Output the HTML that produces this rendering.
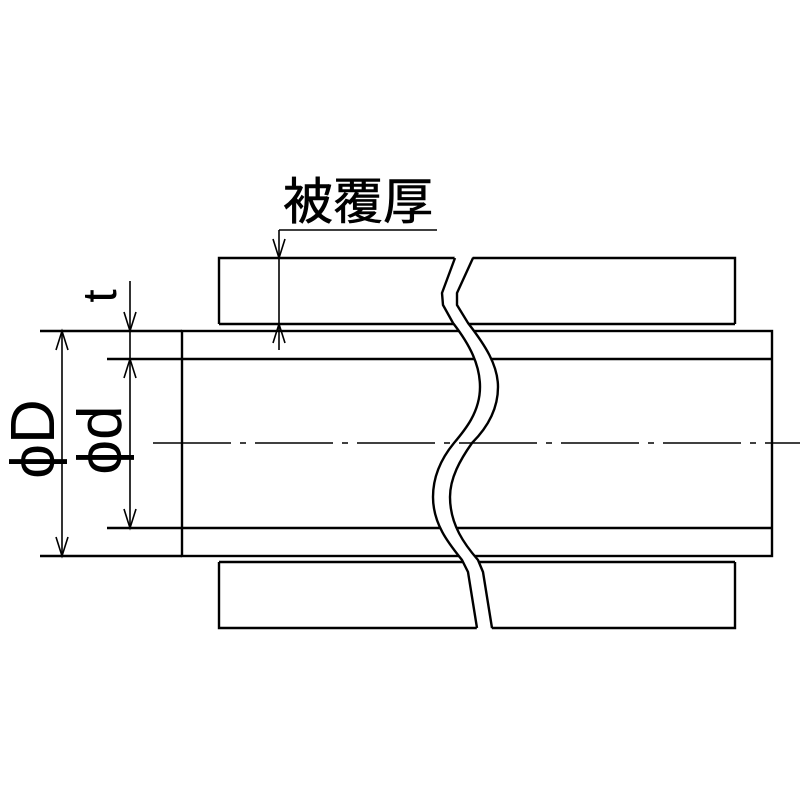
<!DOCTYPE html>
<html><head><meta charset="utf-8"><style>
html,body{margin:0;padding:0;background:#fff;}
svg{display:block;}
text{font-family:"Liberation Sans","Noto Sans CJK JP",sans-serif;fill:#000;}
</style></head><body>
<svg width="800" height="800" viewBox="0 0 800 800" xmlns="http://www.w3.org/2000/svg">
<g stroke="#000" stroke-width="2.4" fill="none">
  <polyline points="219,324 219,258 735,258 735,324"/>
  <line x1="219" y1="324" x2="735" y2="324"/>
  <polyline points="219,562 219,628 735,628 735,562"/>
  <line x1="219" y1="562" x2="735" y2="562"/>
  <rect x="182" y="331" width="590" height="225"/>
  <line x1="107" y1="359" x2="772" y2="359"/>
  <line x1="107" y1="528" x2="772" y2="528"/>
  <line x1="40" y1="331" x2="182" y2="331"/>
  <line x1="40" y1="556" x2="182" y2="556"/>
</g>
<path d="M455,256 L442,293 L443,305 L453,323 C470,345 480,365 480,387 C480,412 465,430 454,443 C440,460 433,478 433,497 C433,525 450,545 462,560 L468,572 L477,630 L492,630 L483,572 L478,560 C465,545 450,525 450,497 C450,478 460,460 472,443 C485,430 498,412 498,387 C498,365 485,345 468,323 L457,305 L457,293 L473,256 Z" fill="#fff" stroke="none"/>
<g stroke="#000" stroke-width="2.4" fill="none">
  <path d="M455,258 L442,293 L443,305 L453,323 C470,345 480,365 480,387 C480,412 465,430 454,443 C440,460 433,478 433,497 C433,525 450,545 462,560 L468,572 L477,628"/>
  <path d="M473,258 L457,293 L457,305 L468,323 C485,345 498,365 498,387 C498,412 485,430 472,443 C460,460 450,478 450,497 C450,525 465,545 478,560 L483,572 L492,628"/>
</g>
<line x1="153" y1="443" x2="800" y2="443" stroke="#000" stroke-width="1.6" stroke-dasharray="78,9,6,9"/>
<g stroke="#000" stroke-width="1.6" fill="none">
  <line x1="62" y1="331" x2="62" y2="556"/>
  <polyline points="56,350 62,331 68,350"/>
  <polyline points="56,537 62,556 68,537"/>
  <line x1="130" y1="281" x2="130" y2="528"/>
  <polyline points="124,312 130,331 136,312"/>
  <polyline points="124,378 130,359 136,378"/>
  <polyline points="124,509 130,528 136,509"/>
  <line x1="279" y1="230" x2="279" y2="350"/>
  <line x1="279" y1="230" x2="437" y2="230"/>
  <polyline points="273,239 279,258 285,239"/>
  <polyline points="273,343 279,324 285,343"/>
</g>
<text x="358" y="219" font-size="50" text-anchor="middle" stroke="#000" stroke-width="0.6">被覆厚</text>
<text transform="translate(116,296) rotate(-90)" font-size="48" text-anchor="middle">t</text>
<text transform="translate(54,439) rotate(-90)" font-size="62" text-anchor="middle">ϕD</text>
<text transform="translate(121,440) rotate(-90)" font-size="62" text-anchor="middle">ϕd</text>
</svg>
</body></html>
